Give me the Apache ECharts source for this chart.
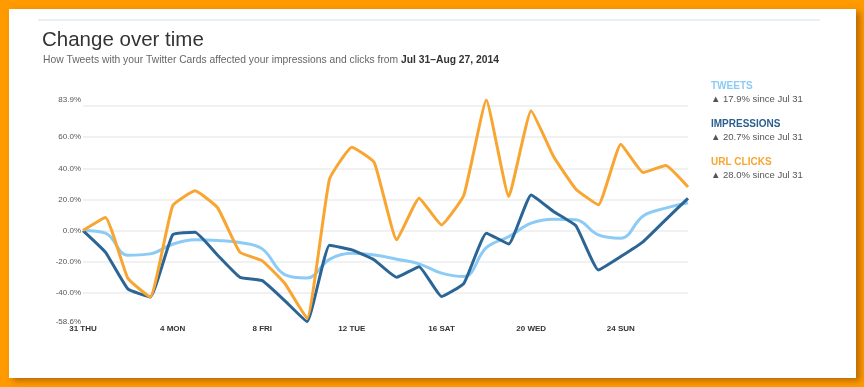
<!DOCTYPE html>
<html>
<head>
<meta charset="utf-8">
<script src="https://cdn.jsdelivr.net/npm/echarts@6/dist/echarts.min.js"></script>
<style>
html,body{margin:0;padding:0;background:#ff9a00;}
#chart{width:864px;height:387px;}
</style>
</head>
<body>
<div id="chart"></div>
<script>
const categories = ['31 THU','1 FRI','2 SAT','3 SUN','4 MON','5 TUE','6 WED','7 THU','8 FRI','9 SAT','10 SUN','11 MON','12 TUE','13 WED','14 THU','15 FRI','16 SAT','17 SUN','18 MON','19 TUE','20 WED','21 THU','22 FRI','23 SAT','24 SUN','25 MON','26 TUE','27 WED'];
const tweets = [0, -1.7, -15.9, -15.0, -8.8, -6.0, -6.4, -7.7, -11.8, -28.3, -30.5, -18.5, -14.6, -15.7, -18.4, -21.4, -27.4, -29.6, -11.0, -3.9, 4.7, 7.3, 6.9, -2.8, -4.9, 9.4, 14.4, 17.9];
const impressions = [0, -13.9, -37.5, -42.7, -2.8, -1.1, -15.7, -30.0, -32.2, -45.0, -58.6, -9.4, -12.4, -18.9, -30.0, -23.2, -42.4, -33.9, -1.7, -8.6, 22.9, 12.2, 3.0, -25.3, -16.7, -7.1, 6.9, 20.7];
const urlClicks = [0, 8.4, -30.7, -42.7, 15.9, 25.5, 14.8, -13.9, -19.5, -33.9, -56.5, 33.0, 53.6, 43.7, -6.0, 20.8, 3.6, 22.9, 83.9, 21.9, 77.0, 47.6, 26.6, 16.5, 55.5, 37.3, 41.8, 28.0];
const yLabelValues = [-58.6, -40, -20, 0, 20, 40, 60, 83.9];
const yGridValues = [-40, -20, 0, 20, 40, 60, 80];
const seriesNames = ['TWEETS', 'IMPRESSIONS', 'URL CLICKS'];
const seriesChange = ['17.9%', '20.7%', '28.0%'];
const titleText = 'Change over time';
const subtitleText = 'How Tweets with your Twitter Cards affected your impressions and clicks from ';
const subtitleBold = 'Jul 31\u2013Aug 27, 2014';

const colors = ['#8ccbf6', '#2b6596', '#f8a532'];
const legendColors = ['#8ccbf6', '#2b5f8e', '#f8a532'];
const FONT = '"Liberation Sans", Arial, Helvetica, sans-serif';

const chart = echarts.init(document.getElementById('chart'), null, {renderer: 'canvas'});

const legendGraphics = [];
const legendTop = [81, 119, 157];
seriesNames.forEach((n, i) => {
  legendGraphics.push({
    type: 'text', left: 711, top: legendTop[i],
    style: {text: n, fill: legendColors[i], font: 'bold 10px ' + FONT}
  });
  legendGraphics.push({
    type: 'text', left: 711, top: legendTop[i] + 13,
    style: {text: '\u25B2 ' + seriesChange[i] + ' since Jul 31', fill: '#555', font: '9.5px ' + FONT}
  });
});

const option = {
  backgroundColor: '#ff9a00',
  animation: false,
  textStyle: {fontFamily: FONT},
  graphic: [
    {type: 'rect', z: -10, shape: {x: 9, y: 9, width: 847, height: 369},
     style: {fill: '#ffffff', shadowBlur: 6, shadowOffsetX: 4, shadowOffsetY: 3, shadowColor: 'rgba(120,60,0,0.5)'}},
    {type: 'rect', z: -9, shape: {x: 38, y: 19, width: 782, height: 2},
     style: {fill: '#e9eff4'}},
    {type: 'text', left: 42, top: 30,
     style: {text: titleText, fill: '#333', font: '20.5px ' + FONT}},
    {type: 'text', left: 43, top: 55,
     style: {
       text: '{a|' + subtitleText + '}{b|' + subtitleBold + '}',
       rich: {
         a: {fill: '#666', font: '10.3px ' + FONT},
         b: {fill: '#333', font: 'bold 10.3px ' + FONT}
       }
     }},
    ...legendGraphics
  ],
  grid: {left: 83, right: 176, top: 100, height: 221.7, containLabel: false},
  xAxis: {
    type: 'category',
    data: categories,
    boundaryGap: false,
    axisLine: {show: false},
    axisTick: {show: false},
    axisLabel: {interval: 3, color: '#333', fontSize: 8, fontWeight: 'bold', margin: 3, fontFamily: FONT},
    splitLine: {show: false}
  },
  yAxis: {
    type: 'value',
    min: -58.6,
    max: 83.9,
    axisLine: {show: false},
    axisTick: {show: false, customValues: yGridValues},
    axisLabel: {customValues: yLabelValues, color: '#555', fontSize: 8, margin: 2, fontFamily: FONT,
      formatter: v => v.toFixed(1) + '%'},
    splitLine: {show: true, lineStyle: {color: '#ededed', width: 1.5}}
  },
  series: [
    {name: seriesNames[0], type: 'line', data: tweets, smooth: 0.4, showSymbol: false, symbol: 'none',
     lineStyle: {color: colors[0], width: 3, join: 'round'}, z: 2},
    {name: seriesNames[1], type: 'line', data: impressions, smooth: 0.12, showSymbol: false, symbol: 'none',
     lineStyle: {color: colors[1], width: 3, join: 'round'}, z: 3},
    {name: seriesNames[2], type: 'line', data: urlClicks, smooth: 0.12, showSymbol: false, symbol: 'none',
     lineStyle: {color: colors[2], width: 3, join: 'round'}, z: 4}
  ]
};
chart.setOption(option);
</script>
</body>
</html>
